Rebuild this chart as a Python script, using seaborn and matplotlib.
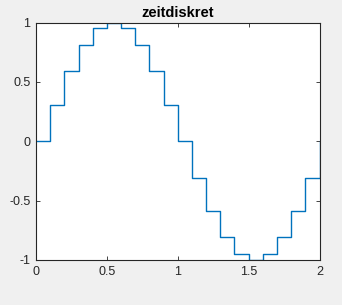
import matplotlib
matplotlib.use("Agg")
import matplotlib.pyplot as plt
import seaborn as sns
import pandas as pd

t = [0.0, 0.1, 0.2, 0.3, 0.4, 0.5, 0.6, 0.7, 0.8, 0.9, 1.0,
     1.1, 1.2, 1.3, 1.4, 1.5, 1.6, 1.7, 1.8, 1.9, 2.0]
y = [0.0, 0.309, 0.588, 0.809, 0.951, 1.0, 0.951, 0.809, 0.588, 0.309, 0.0,
     -0.309, -0.588, -0.809, -0.951, -1.0, -0.951, -0.809, -0.588, -0.309, 0.0]
xticks = [0, 0.5, 1, 1.5, 2]
xticklabels = ["0", "0.5", "1", "1.5", "2"]
yticks = [-1, -0.5, 0, 0.5, 1]
yticklabels = ["-1", "-0.5", "0", "0.5", "1"]
title = "zeitdiskret"

sns.set_style("white")
plt.rcParams["font.family"] = ["Liberation Sans", "DejaVu Sans"]

df = pd.DataFrame({"t": t, "y": y})
fig = plt.figure(figsize=(3.42, 3.05), dpi=100, facecolor="#f0f0f0")
ax = fig.add_axes([36 / 342, 1 - 260 / 305, (319.5 - 36) / 342, (260 - 22.5) / 305])
ax.set_facecolor("white")
sns.lineplot(data=df, x="t", y="y", ax=ax, drawstyle="steps-post",
             estimator=None, color="#0072BD", linewidth=1.0)
ax.set_xlim(0, 2)
ax.set_ylim(-1, 1)
ax.set_xticks(xticks)
ax.set_xticklabels(xticklabels)
ax.set_yticks(yticks)
ax.set_yticklabels(yticklabels)
ax.set_xlabel("")
ax.set_ylabel("")
ax.tick_params(direction="in", length=3, width=0.6, color="#262626",
               labelsize=9, labelcolor="#262626", top=True, right=True,
               bottom=True, left=True, pad=4)
for s in ax.spines.values():
    s.set_visible(True)
    s.set_color("#262626")
    s.set_linewidth(0.8)
ax.set_title(title, fontsize=10.5, fontweight="bold", color="black", pad=4)
fig.savefig("out.png", dpi=100, facecolor=fig.get_facecolor())
